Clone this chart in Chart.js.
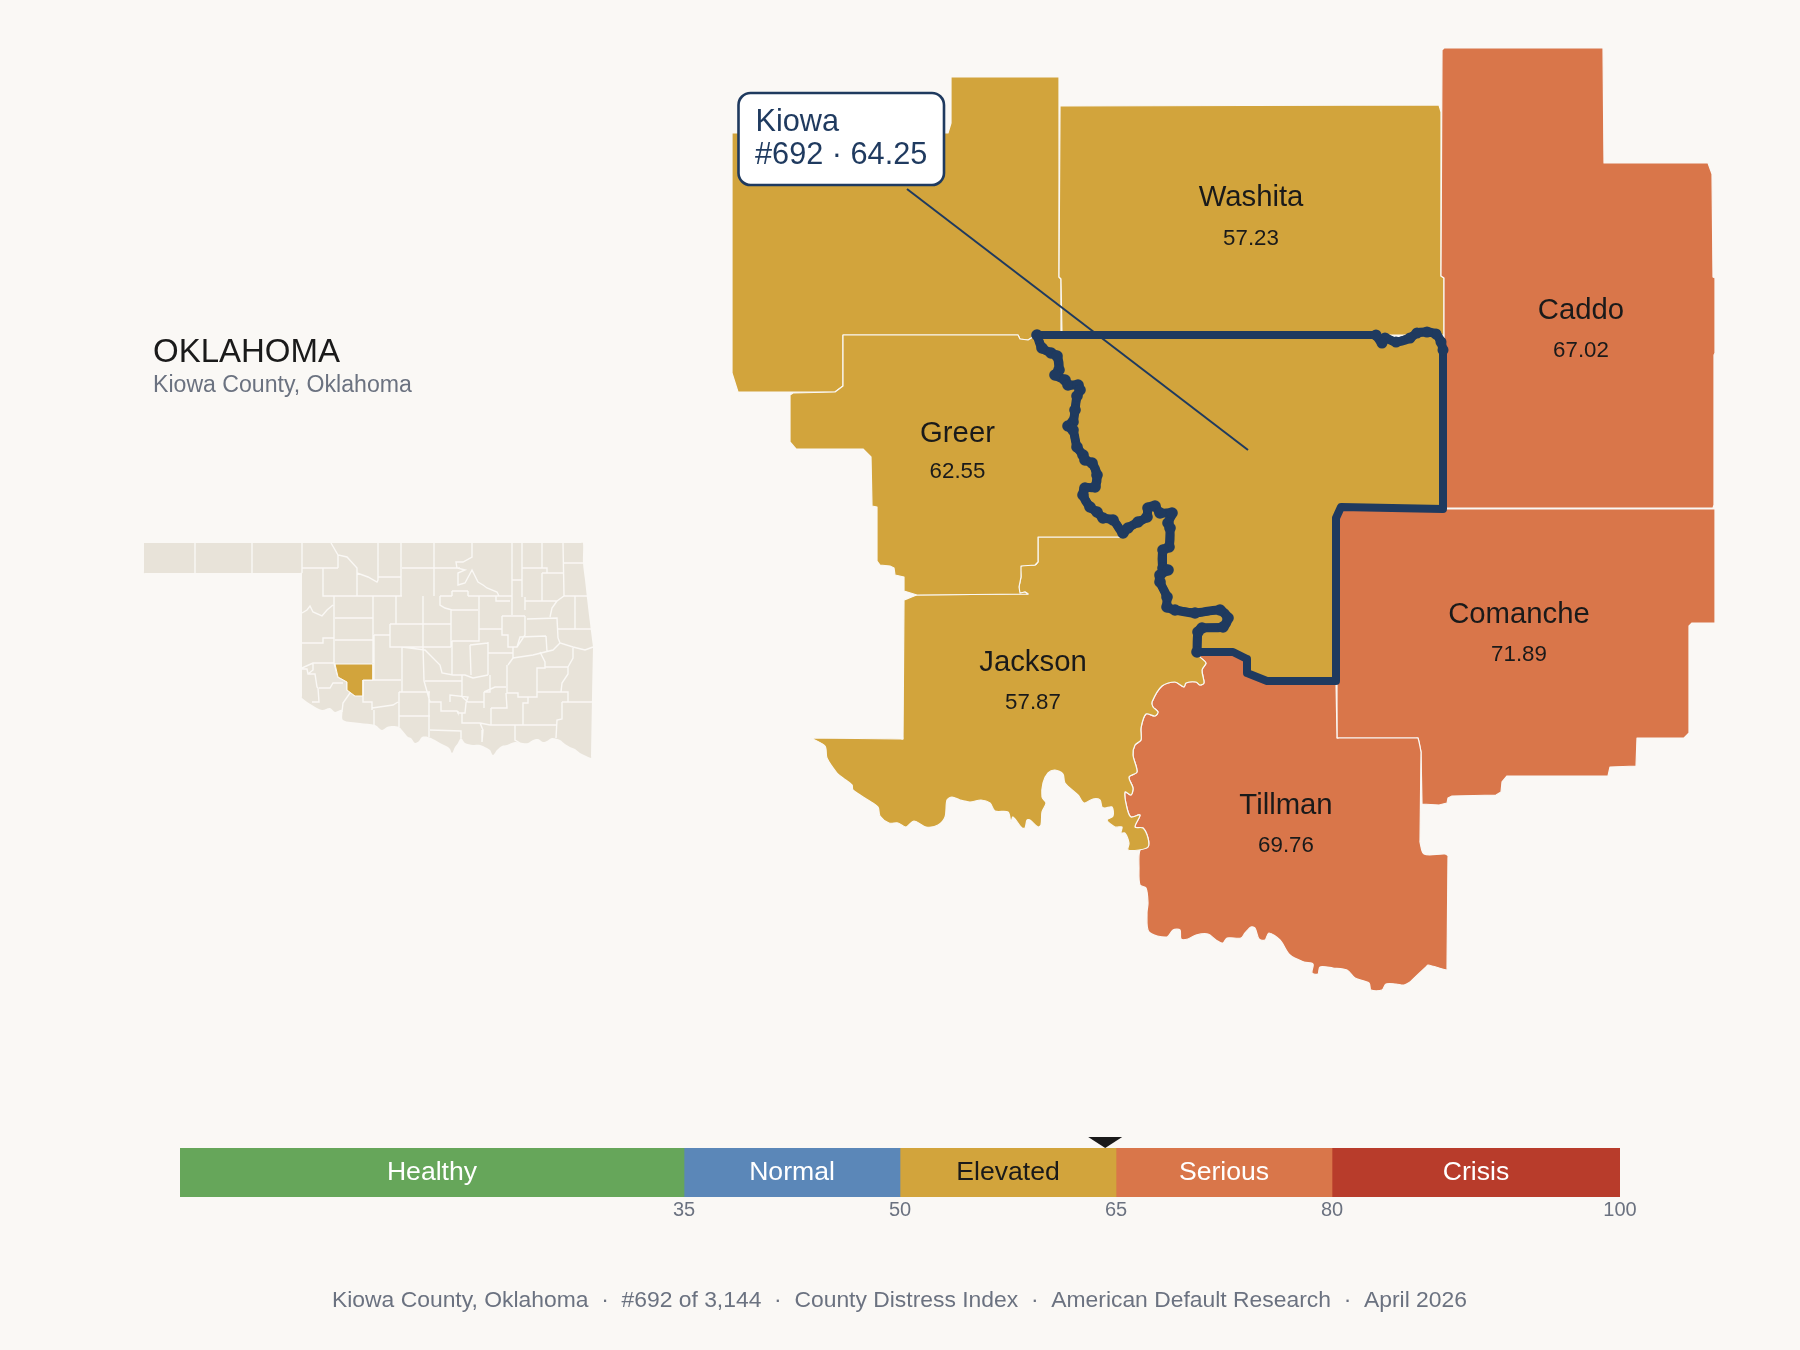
<!DOCTYPE html>
<html><head><meta charset="utf-8">
<script src="https://cdn.jsdelivr.net/npm/chart.js@4"></script>
<style>
html,body{margin:0;padding:0;background:#faf8f5;width:1800px;height:1350px;overflow:hidden}
canvas{position:absolute;left:0;display:block}
</style></head><body>
<canvas id="map" width="1800" height="1350" style="top:0;width:1800px;height:1350px"></canvas>
<canvas id="bar" width="1800" height="120" style="top:1130px;width:1800px;height:120px"></canvas>
<script>
const countyNames=['Washita','Caddo','Greer','Jackson','Comanche','Tillman'];
const countyScores=[57.23,67.02,62.55,57.87,71.89,69.76];
const focusName='Kiowa', focusRank='#692', focusScore=64.25;
const bandLabels=['Healthy','Normal','Elevated','Serious','Crisis'];
const bandLows=[0,35,50,65,80];
const bandHighs=[35,50,65,80,100];
const tickValues=[35,50,65,80,100];

const beckhamOutline=[[951,77],[1059,77],[1059,277],[1061,279],[1061,335],[1033,337],[1028,340],[1020,339],[1018,335],[843,335],[843,386],[835,392],[738,392],[732,373],[732,133],[948,133],[951,123]];
const washitaOutline=[[1060,106],[1439,105],[1441,112],[1441,276],[1444,278],[1444,335],[1062,335],[1061,279],[1059,277],[1060,110]];
const caddoOutline=[[1442,50],[1444,48],[1603,48],[1604,163],[1708,163],[1712,174],[1713,277],[1715,278],[1715,353],[1714,355],[1714,505],[1713,508],[1446,508],[1444,330],[1444,278],[1441,276]];
const comancheOutline=[[1446,509],[1715,509],[1715,623],[1692,623],[1689,626],[1689,733],[1684,738],[1637,738],[1636,766],[1610,767],[1608,776],[1507,776],[1502,782],[1501,792],[1496,795],[1452,796],[1448,798],[1447,803],[1439,805],[1422,804],[1421,752],[1418,738],[1337,738],[1337,684],[1337,520],[1341,508]];
const tillmanOutline=[[1198,653],[1235,652],[1246,658],[1246,673],[1267,681],[1336,681],[1337,738],[1418,738],[1421,752],[1420,842],[1424,854],[1445,854],[1448,856],[1447,970],[1428,965],[1410,982],[1404,985],[1396,984],[1386,984],[1382,990],[1371,990],[1369,983],[1355,978],[1347,970],[1333,968],[1320,967],[1318,974],[1312,973],[1313,964],[1304,962],[1290,955],[1280,940],[1269,933],[1265,940],[1259,939],[1255,928],[1251,927],[1245,933],[1241,938],[1227,938],[1223,943],[1216,940],[1208,934],[1196,935],[1188,939],[1181,939],[1180,930],[1173,930],[1167,937],[1149,932],[1147,913],[1148,903],[1146,888],[1140,885],[1139,868],[1140,850],[1148,847],[1148,838],[1143,828],[1135,827],[1140,815],[1131,817],[1127,808],[1125,792],[1131,795],[1133,788],[1129,777],[1137,772],[1133,755],[1135,745],[1141,740],[1141,728],[1146,714],[1155,716],[1158,712],[1153,707],[1152,702],[1162,686],[1175,682],[1184,687],[1186,683],[1196,682],[1200,685],[1204,683],[1202,670],[1206,663],[1200,657]];
const riverBoundary=[[1037,335],[1042,348],[1051,353],[1057,356],[1059,370],[1055,375],[1065,380],[1068,385],[1078,385],[1080,390],[1077,396],[1075,410],[1073,422],[1068,426],[1073,430],[1077,447],[1083,455],[1085,460],[1092,463],[1097,475],[1095,487],[1085,488],[1083,495],[1090,507],[1097,512],[1103,518],[1113,520],[1123,533],[1128,528],[1138,522],[1147,517],[1148,508],[1155,506],[1160,513],[1172,513],[1168,523],[1170,528],[1169,547],[1163,550],[1163,568],[1168,570],[1160,575],[1160,582],[1167,597],[1167,607],[1175,610],[1195,613],[1220,610],[1228,618],[1223,627],[1202,628],[1198,632],[1197,652]];
const kiowaEast=[[1233,652],[1247,659],[1247,673],[1267,681],[1280,681],[1336,681],[1336,518],[1341,507],[1443,509],[1443,350]];
const kiowaNorthBump=[[1443,350],[1441,342],[1436,334],[1427,332],[1417,333],[1410,338],[1396,342],[1385,338],[1382,343],[1376,335]];
const greerNorthWest=[[843,335],[1018,335],[1020,339],[1028,340],[1033,337]];
const greerSouth=[[1120,537],[1038,537],[1038,562],[1035,565],[1021,566],[1021,577],[1019,587],[1020,593],[1025,592],[1028,594],[917,595],[904,591],[904,577],[895,575],[894,568],[890,566],[880,565],[877,561],[877,507],[872,506],[871,457],[863,449],[796,449],[790,442],[790,395],[793,393],[835,392],[843,386]];
const jacksonTop=[[904,600],[917,595],[1028,594],[1025,592],[1020,593],[1019,587],[1021,577],[1021,566],[1035,565],[1038,562],[1038,537],[1120,537]];
const jacksonSouth=[[1198,653],[1200,657],[1206,663],[1202,670],[1204,683],[1200,685],[1196,682],[1186,683],[1184,687],[1175,682],[1162,686],[1152,702],[1153,707],[1158,712],[1155,716],[1146,714],[1141,728],[1141,740],[1135,745],[1133,755],[1137,772],[1129,777],[1133,788],[1131,795],[1125,792],[1127,808],[1131,817],[1140,815],[1135,827],[1143,828],[1148,838],[1148,847],[1139,850],[1128,850],[1129,843],[1125,833],[1121,833],[1122,827],[1115,827],[1107,820],[1113,816],[1112,807],[1105,808],[1102,807],[1100,800],[1093,799],[1084,803],[1078,795],[1065,783],[1063,774],[1055,770],[1048,773],[1043,783],[1042,797],[1046,803],[1042,812],[1041,825],[1038,827],[1030,820],[1027,820],[1025,828],[1022,828],[1013,817],[1011,822],[1008,812],[995,811],[990,803],[981,800],[970,802],[960,800],[952,797],[947,800],[945,817],[938,825],[926,827],[914,821],[906,827],[898,823],[889,823],[880,816],[878,807],[868,800],[853,790],[852,785],[843,778],[837,773],[827,758],[825,746],[811,738],[903,739]];

const insetState=[[144,543],[583,543],[583,563],[585,580],[588,607],[593,647],[592,697],[591,758],[584,755],[580,753],[575,749],[570,747],[565,744],[560,740],[552,738],[547,741],[543,742],[538,739],[533,740],[528,743],[523,743],[515,742],[507,745],[502,746],[497,750],[493,755],[490,750],[487,748],[480,745],[473,745],[465,743],[461,738],[458,743],[455,747],[452,753],[450,749],[448,747],[440,743],[435,740],[428,737],[422,737],[419,741],[415,743],[411,738],[408,737],[402,730],[399,727],[393,726],[387,727],[382,730],[375,725],[360,723],[343,720],[342,710],[335,712],[330,708],[322,710],[312,705],[302,698],[302,573],[144,573]];
const insetKiowa=[[335,664],[373,664],[373,680],[363,680],[363,696],[355,696],[347,690],[347,682],[338,677]];
const insetBorders=[
[[195,543],[195,573]],[[252,543],[252,573]],[[302,543],[302,573]],
[[302,568],[338,568]],[[338,555],[338,568]],
[[331,543],[338,555],[347,557],[357,568],[357,573],[368,577],[377,582],[378,580],[378,543]],
[[323,568],[323,596],[402,596]],[[357,568],[357,596]],[[378,577],[401,577]],[[401,543],[401,596]],
[[402,568],[460,568]],
[[302,613],[307,610],[310,606],[313,612],[322,616],[327,610],[333,605]],
[[334,596],[334,663]],[[302,643],[323,643],[323,638],[334,638]],
[[302,668],[313,663],[334,663]],[[335,618],[373,618]],[[335,640],[373,640]],[[373,596],[373,663]],
[[396,596],[396,624]],[[423,596],[423,647]],[[390,624],[451,624]],[[390,624],[390,647],[451,647]],
[[374,635],[390,635]],[[374,635],[374,680]],[[402,647],[402,692]],
[[363,680],[401,680]],[[363,680],[363,702],[372,702],[372,710]],[[372,708],[393,705],[398,702]],
[[399,692],[399,727]],[[399,692],[430,692]],[[399,716],[430,716]],[[374,710],[374,725]],
[[302,669],[307,669],[308,674],[315,674],[317,687],[318,688],[319,702],[312,702]],
[[313,663],[313,670],[308,674]],[[319,688],[330,688],[333,683],[343,683]],
[[334,663],[338,677],[347,682],[347,690],[355,696]],
[[350,693],[343,703],[342,712]],
[[434,543],[434,596]],[[472,543],[472,557],[463,562],[456,562],[457,568],[465,570],[458,573],[458,585],[465,583],[472,570],[478,582],[483,585],[487,588],[497,592],[499,596]],
[[440,596],[452,596]],[[452,591],[468,591]],[[452,591],[452,596]],[[468,591],[468,596]],[[468,596],[512,596]],
[[512,543],[512,596]],[[522,543],[522,597]],[[542,543],[542,568]],[[563,543],[564,596]],[[564,563],[583,563]],
[[522,568],[547,568],[547,573]],[[542,573],[563,573]],[[542,573],[542,601]],
[[512,580],[522,580]],[[512,580],[512,615]],
[[479,596],[479,629]],[[496,596],[496,601],[510,601]],
[[557,601],[564,596],[587,596]],[[575,596],[575,629]],[[557,601],[552,608],[550,617]],[[525,597],[525,610]],[[525,601],[557,601]],
[[440,596],[440,605],[445,608],[452,610],[478,610]],[[451,610],[451,647]],
[[402,647],[425,650],[430,655],[440,665],[442,673],[453,675],[465,675],[473,678],[488,675]],
[[452,641],[479,641],[479,629],[502,629]],[[502,616],[525,616]],[[502,616],[502,635],[508,635],[508,647],[517,647],[520,637],[546,636]],
[[525,616],[525,635],[517,647]],[[527,619],[557,618],[558,638]],[[558,629],[592,629]],[[546,636],[547,652]],
[[558,638],[560,643],[573,647],[585,650],[593,647]],
[[560,643],[553,650],[545,652],[533,655],[513,658],[508,665]],
[[452,641],[452,675]],[[470,645],[488,643]],[[470,645],[471,675]],[[488,642],[488,675]],[[488,653],[513,653]],[[513,647],[513,658]],
[[507,665],[507,693],[518,693],[518,697],[537,697],[537,668],[545,668],[545,662],[540,652]],
[[545,667],[568,667],[568,674],[562,683],[561,692]],[[537,692],[568,692],[568,702]],[[573,648],[573,658],[568,667]],
[[562,702],[592,702]],[[562,702],[562,719],[557,720],[556,738]],
[[528,697],[528,703],[523,703],[523,725]],[[490,725],[557,725]],[[491,708],[507,708],[506,693]],[[491,708],[491,725]],
[[484,692],[484,708]],[[484,692],[495,687],[506,687]],
[[425,681],[462,681]],[[462,675],[462,697],[468,702],[484,702]],[[490,675],[490,692],[484,692]],
[[423,647],[424,681],[430,702]],[[429,692],[429,737]],[[429,702],[441,702],[441,711],[457,711],[458,713],[465,713],[466,703],[468,697],[450,695],[450,702]],
[[462,713],[462,723],[480,723],[483,730],[482,742]],[[430,730],[461,731],[461,738]],[[480,723],[490,725]],[[515,725],[515,740],[520,743]]
];
const leaderLine=[[907,189],[1248,450]];
const labelAnchors=[[1251,198.3,239],[1581,311.3,351],[957.5,434.3,472],[1033,663.3,703],[1519,615.3,655],[1286,806,846]];

const BG='#faf8f5',GOLD='#d2a43c',ORANGE='#d9764a',NAVY='#1f3a5f',INK='#1a1a1a',SLATE='#6b7280',LAND='#e8e3d9';
const FONT='"Liberation Sans", Arial, sans-serif';
const pts=a=>a.map(([x,y])=>({x,y}));
// Keeps long straight edges and their corners crisp when a curve tension is applied to a wiggly outline.
const guardEdges=a=>{const o=[];a.forEach((p,i)=>{const q=a[(i+1)%a.length],d=Math.hypot(q[0]-p[0],q[1]-p[1]);o.push(p);
 if(d>24){const k=2/d;o.push([p[0]+(q[0]-p[0])*k,p[1]+(q[1]-p[1])*k],[q[0]-(q[0]-p[0])*k,q[1]-(q[1]-p[1])*k]);}});return o;};
const closed=a=>pts(a.concat([a[0]]));
const area=(a,color,edge,w,tension)=>({data:closed(tension?guardEdges(a):a),backgroundColor:color,borderColor:edge,borderWidth:w,fill:'shape',showLine:true,pointRadius:0,tension:tension||0,borderJoinStyle:'round',borderCapStyle:'round'});
const stroke=(a,w,r,tension)=>({data:pts(a),borderColor:NAVY,backgroundColor:NAVY,borderWidth:w,showLine:true,pointRadius:r,pointBorderWidth:0,tension,fill:false,borderJoinStyle:'round',borderCapStyle:'round'});
const polyFromLines=l=>{const o=[];l.forEach(p=>{p.forEach(([x,y])=>o.push({x,y}));o.push({x:NaN,y:NaN});});return o;};

const kiowaOutline=riverBoundary.concat(kiowaEast,kiowaNorthBump);
const greerOutline=greerNorthWest.concat(riverBoundary.slice(0,28),greerSouth);
const jacksonOutline=jacksonTop.concat(riverBoundary.slice(27),jacksonSouth);

const paint=[
 area(insetState,LAND,LAND,0,0.3),
 {data:polyFromLines(insetBorders),borderColor:BG,borderWidth:1.4,showLine:true,pointRadius:0,fill:false,spanGaps:false},
 area(insetKiowa,GOLD,BG,1),
 area(beckhamOutline,GOLD,BG,1.2),
 area(washitaOutline,GOLD,BG,1.2),
 area(caddoOutline,ORANGE,BG,1.2),
 area(comancheOutline,ORANGE,BG,1.2),
 area(tillmanOutline,ORANGE,BG,1.2,0.3),
 area(jacksonOutline,GOLD,BG,1.2,0.3),
 area(greerOutline,GOLD,BG,1.2),
 area(kiowaOutline,GOLD,NAVY,8),
 stroke(riverBoundary,9,5.8,0.3),
 stroke(kiowaNorthBump,9,5.5,0.3),
 {data:pts(leaderLine),borderColor:NAVY,borderWidth:2,showLine:true,pointRadius:0,fill:false}
];

const textPlugin={id:'mapText',afterDatasetsDraw(c){
 const g=c.ctx,X=c.scales.x,Y=c.scales.y;
 const put=(t,x,y,font,color,align)=>{g.font=font;g.fillStyle=color;g.textAlign=align||'left';g.textBaseline='alphabetic';g.fillText(t,X.getPixelForValue(x),Y.getPixelForValue(y));};
 g.save();
 countyNames.forEach((n,i)=>{const [x,y1,y2]=labelAnchors[i];
  g.textBaseline='middle';g.textAlign='center';g.fillStyle=INK;
  g.font='29.3px '+FONT;g.fillText(n,X.getPixelForValue(x),Y.getPixelForValue(y1));
  g.font='22.3px '+FONT;g.fillText(countyScores[i].toFixed(2),X.getPixelForValue(x),Y.getPixelForValue(y2));
 });
 const bx=X.getPixelForValue(738.5),by=Y.getPixelForValue(93);
 g.beginPath();g.roundRect(bx,by,205.5,92,12);g.fillStyle='#fff';g.fill();g.lineWidth=2.6;g.strokeStyle=NAVY;g.stroke();
 put(focusName,755.5,131,'30.7px '+FONT,NAVY);
 put(focusRank+' \u00b7 '+focusScore.toFixed(2),755,164,'30.7px '+FONT,NAVY);
 put('OKLAHOMA',153,362,'33px '+FONT,INK);
 put('Kiowa County, Oklahoma',153,392,'23.1px '+FONT,SLATE);
 put('Kiowa County, Oklahoma  \u00b7  '+focusRank+' of 3,144  \u00b7  County Distress Index  \u00b7  American Default Research  \u00b7  April 2026',899.5,1307,'22.88px '+FONT,SLATE,'center');
 g.restore();
}};

new Chart(document.getElementById('map'),{type:'scatter',data:{datasets:paint.slice().reverse()},plugins:[textPlugin],options:{
 responsive:false,animation:false,devicePixelRatio:1,layout:{padding:0,autoPadding:false},
 plugins:{legend:{display:false},tooltip:{enabled:false},title:{display:false}},
 scales:{x:{type:'linear',min:0,max:1800,display:false},y:{type:'linear',min:0,max:1350,reverse:true,display:false}}
}});

const bandColors=['#66a65a','#5b87b8',GOLD,ORANGE,'#b83c2b'];
const bandInk=['#fff','#fff',INK,'#fff','#fff'];
const barPlugin={id:'barText',afterDatasetsDraw(c){
 const g=c.ctx,X=c.scales.x,a=c.chartArea;g.save();
 g.font='26.6px '+FONT;g.textAlign='center';g.textBaseline='middle';
 bandLabels.forEach((l,i)=>{g.fillStyle=bandInk[i];g.fillText(l,X.getPixelForValue((bandLows[i]+bandHighs[i])/2),(a.top+a.bottom)/2);});
 const m=X.getPixelForValue(focusScore);
 g.fillStyle=INK;g.beginPath();g.moveTo(m-17,a.top-11);g.lineTo(m+17,a.top-11);g.lineTo(m,a.top);g.closePath();g.fill();
 g.restore();
}};
new Chart(document.getElementById('bar'),{type:'bar',
 data:{labels:['Index'],datasets:bandLabels.map((l,i)=>({label:l,data:[[bandLows[i],bandHighs[i]]],backgroundColor:bandColors[i],borderWidth:0,barPercentage:1,categoryPercentage:1}))},
 plugins:[barPlugin],
 options:{indexAxis:'y',responsive:false,animation:false,devicePixelRatio:1,
 layout:{padding:{left:180,right:180,top:18,bottom:0}},
 plugins:{legend:{display:false},tooltip:{enabled:false}},
 datasets:{bar:{grouped:false}},
 scales:{
  y:{display:false},
  x:{type:'linear',min:0,max:100,position:'bottom',grid:{display:false,drawTicks:false},border:{display:false},
   afterBuildTicks(ax){ax.ticks=tickValues.map(v=>({value:v}));},
   afterFit(ax){ax.height=53;},
   ticks:{autoSkip:false,maxRotation:0,padding:1,color:SLATE,font:{size:20,family:FONT},callback:v=>String(v)}}
 }}});
</script></body></html>
